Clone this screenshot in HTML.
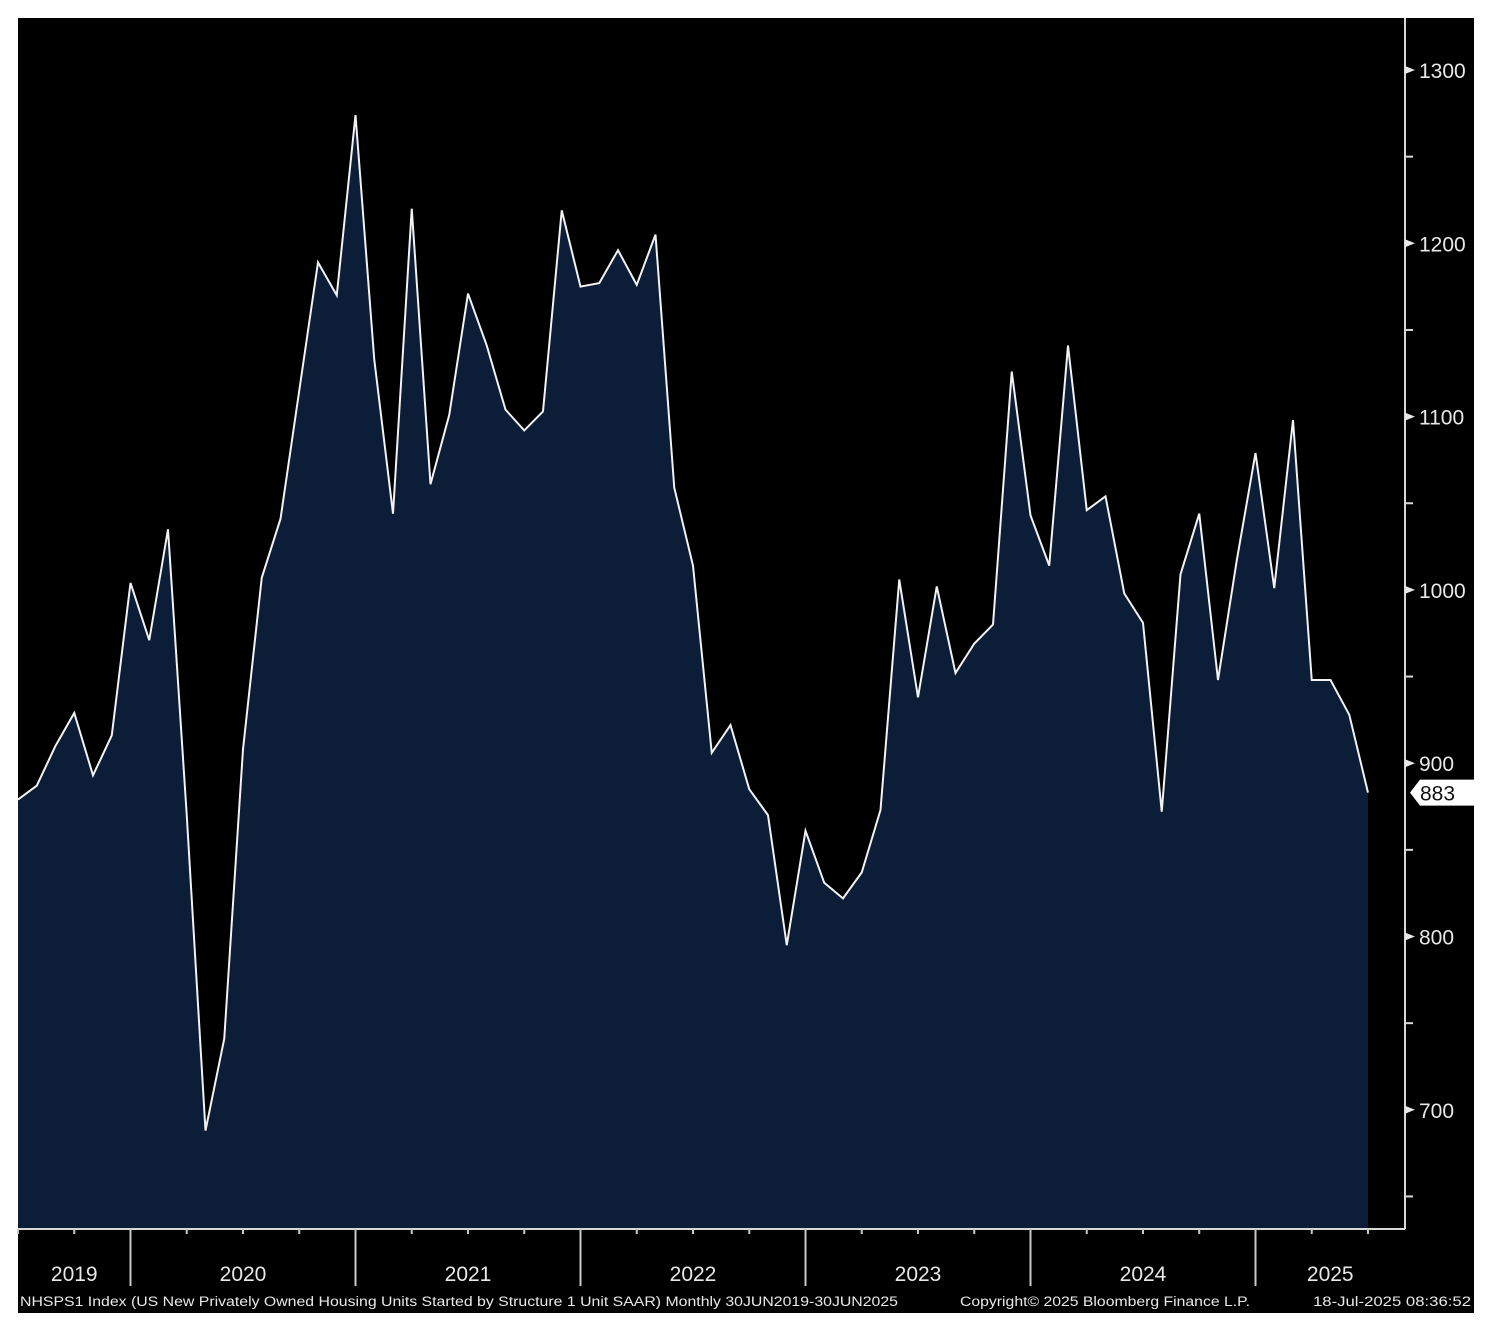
<!DOCTYPE html>
<html><head><meta charset="utf-8"><style>
html,body{margin:0;padding:0;background:#fff;}
svg{display:block;}
text{font-family:"Liberation Sans",sans-serif;}
</style></head><body>
<svg id="chart" width="1496" height="1344" viewBox="0 0 1496 1344" xmlns="http://www.w3.org/2000/svg">
<rect x="0" y="0" width="1496" height="1344" fill="#fff"/>
<rect x="18" y="18" width="1456" height="1295" fill="#000"/>
<g id="plot"></g>
<g id="axes"></g>
<text x="20" y="1306" font-size="13.5" fill="#e8e8e8" textLength="878" lengthAdjust="spacingAndGlyphs">NHSPS1 Index (US New Privately Owned Housing Units Started by Structure 1 Unit SAAR)  Monthly 30JUN2019-30JUN2025</text>
<text x="960" y="1306" font-size="13.5" fill="#e8e8e8" textLength="290" lengthAdjust="spacingAndGlyphs">Copyright© 2025 Bloomberg Finance L.P.</text>
<text x="1313" y="1306" font-size="13.5" fill="#e8e8e8" textLength="158" lengthAdjust="spacingAndGlyphs">18-Jul-2025 08:36:52</text>
</svg>
<script>
const values = [879,887,910,929,893,916,1004,971,1035,870,688,741,908,1007,1041,1115,1189,1170,1274,1133,1044,1220,1061,1101,1171,1141,1104,1092,1103,1219,1175,1177,1196,1176,1205,1059,1014,906,922,885,870,795,861,831,822,837,873,1006,938,1002,952,969,980,1126,1043,1014,1141,1046,1054,998,981,872,1009,1044,948,1017,1079,1001,1098,948,948,928,883];
const yTicks = [700,800,900,1000,1100,1200,1300];
const yMinorTicks = [650,750,850,950,1050,1150,1250];
const years = ["2019","2020","2021","2022","2023","2024","2025"];
const lastLabel = "883";

const NS="http://www.w3.org/2000/svg";
const X0=18, DX=18.75, PLOT_R=1405, PLOT_B=1229;
function xs(i){return X0+DX*i;}
function ys(v){return 70+(1300-v)*1.733;}
function mk(tag,attrs,parent){const e=document.createElementNS(NS,tag);for(const k in attrs)e.setAttribute(k,attrs[k]);parent.appendChild(e);return e;}
const plot=document.getElementById('plot'), axes=document.getElementById('axes');

let d="M"+xs(0)+","+PLOT_B;
values.forEach((v,i)=>{d+=" L"+xs(i)+","+ys(v);});
d+=" L"+xs(values.length-1)+","+PLOT_B+" Z";
const area=mk('path',{d:d,fill:'#0c1d38'},plot);


let ld="";
values.forEach((v,i)=>{ld+=(i?" L":"M")+xs(i)+","+ys(v);});
const line=mk('path',{d:ld,fill:'none',stroke:'#f2f2f2','stroke-width':2,'stroke-linejoin':'miter'},plot);



const ya=mk('line',{x1:PLOT_R,y1:18,x2:PLOT_R,y2:PLOT_B,stroke:'#d8d8d8','stroke-width':2},axes);


const xa=mk('line',{x1:18,y1:PLOT_B,x2:PLOT_R,y2:PLOT_B,stroke:'#d8d8d8','stroke-width':2},axes);



yTicks.forEach(t=>{
  const y=ys(t);
  const tk=mk('path',{d:`M${PLOT_R},${y-4} L${PLOT_R+10},${y} L${PLOT_R},${y+4} Z`,fill:'#e8e8e8'},axes);
  
  
  const tx=mk('text',{x:PLOT_R+14,y:y+8,'font-size':21,fill:'#e8e8e8'},axes);
  tx.textContent=t;
  
  
});
yMinorTicks.forEach(t=>{
  const y=ys(t);
  const tk=mk('line',{x1:PLOT_R,y1:y,x2:PLOT_R+8,y2:y,stroke:'#d8d8d8','stroke-width':2},axes);
  
  
});
for(let i=0;i<values.length;i+=3){
  const isYear=((i-6)%12===0);
  const tk=mk('line',{x1:xs(i),y1:PLOT_B,x2:xs(i),y2:isYear?1286:1234,stroke:'#c8c8c8','stroke-width':2},axes);
  
  
}
years.forEach((yr,k)=>{
  const s=Math.max(0,-6+12*k), e=6+12*k;
  const xe = e>values.length-1 ? PLOT_R : xs(e);
  const tx=mk('text',{x:(xs(s)+xe)/2,y:1281,'font-size':21,fill:'#e8e8e8','text-anchor':'middle'},axes);
  tx.textContent=yr;
  
  
});
const ly=ys(values[values.length-1]);
const lb=mk('path',{d:`M1410,${ly} L1420,${ly-13} L1474,${ly-13} L1474,${ly+13} L1420,${ly+13} Z`,fill:'#fff'},axes);


const lt=mk('text',{x:1420,y:ly+8,'font-size':21,fill:'#111'},axes);
lt.textContent=lastLabel;


</script>
</body></html>
